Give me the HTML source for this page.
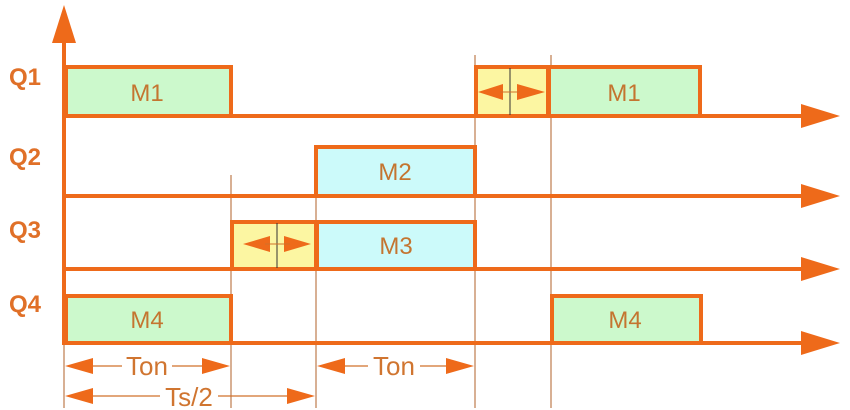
<!DOCTYPE html>
<html><head><meta charset="utf-8"><style>html,body{margin:0;padding:0;background:#fff}svg{display:block}</style></head>
<body>
<svg width="850" height="410" viewBox="0 0 850 410" xmlns="http://www.w3.org/2000/svg" font-family="Liberation Sans, sans-serif">
<g stroke="#b0622a" stroke-width="1" fill="none">
<line x1="64" y1="345" x2="64" y2="408"/>
<line x1="231" y1="175" x2="231" y2="408"/>
<line x1="316" y1="175" x2="316" y2="408"/>
<line x1="475" y1="55" x2="475" y2="408"/>
<line x1="551" y1="55" x2="551" y2="408"/>
</g>
<g stroke="#ee6a1a" stroke-width="4">
<rect x="66" y="67" width="165" height="49" fill="#ccf9cc"/>
<rect x="476" y="67" width="72" height="49" fill="#fcf6a2"/>
<rect x="549" y="67" width="151" height="49" fill="#ccf9cc"/>
<rect x="316" y="147" width="159" height="49" fill="#ccfafa"/>
<rect x="232" y="222" width="84" height="47" fill="#fcf6a2"/>
<rect x="317" y="222" width="158" height="47" fill="#ccfafa"/>
<rect x="66" y="296" width="165" height="47" fill="#ccf9cc"/>
<rect x="552" y="296" width="149" height="47" fill="#ccf9cc"/>
</g>
<g stroke="#ee6a1a" stroke-width="4">
<line x1="64" y1="40" x2="64" y2="345"/>
<line x1="64" y1="116" x2="805" y2="116"/>
<line x1="64" y1="196" x2="805" y2="196"/>
<line x1="64" y1="269" x2="805" y2="269"/>
<line x1="64" y1="343" x2="805" y2="343"/>
</g>
<g fill="#ee6a1a">
<polygon points="64,5 52,43 76,43"/>
<polygon points="840,116 801,104 801,128"/>
<polygon points="840,196 801,184 801,208"/>
<polygon points="840,269 801,257 801,281"/>
<polygon points="840,343 801,331 801,355"/>
</g>
<g stroke="#333" stroke-width="1"><line x1="510" y1="68" x2="510" y2="115"/><line x1="277" y1="223" x2="277" y2="268"/></g>
<g fill="#ee6a1a">
<polygon points="478,92 503,84 503,100"/><polygon points="545,92 517,84 517,100"/>
<polygon points="243,244 270,236 270,252"/><polygon points="311,244 284,236 284,252"/>
</g>
<g stroke="#d0702a" stroke-width="1"><line x1="500" y1="92" x2="520" y2="92"/><line x1="265" y1="244" x2="290" y2="244"/></g>
<g stroke="#d0702a" stroke-width="1.2">
<line x1="90" y1="366" x2="122" y2="366"/><line x1="172" y1="366" x2="205" y2="366"/>
<line x1="342" y1="366" x2="368" y2="366"/><line x1="420" y1="366" x2="448" y2="366"/>
<line x1="90" y1="396" x2="160" y2="396"/><line x1="218" y1="396" x2="290" y2="396"/>
</g>
<g fill="#ee6a1a">
<polygon points="65,366 93,358 93,374"/><polygon points="230,366 202,358 202,374"/>
<polygon points="317,366 345,358 345,374"/><polygon points="474,366 446,358 446,374"/>
<polygon points="65,396 93,388 93,404"/><polygon points="315,396 287,388 287,404"/>
</g>
<g fill="#d07530" font-size="26" text-anchor="middle">
<text x="147" y="375">Ton</text>
<text x="394" y="375">Ton</text>
<text x="189" y="406">Ts/2</text>
</g>
<g fill="#c47530" font-size="24" text-anchor="middle">
<text x="147" y="101">M1</text>
<text x="624" y="101">M1</text>
<text x="395" y="180">M2</text>
<text x="396" y="254">M3</text>
<text x="147" y="328">M4</text>
<text x="625" y="328">M4</text>
</g>
<g fill="#e07028" font-size="24" font-weight="bold">
<text x="9" y="85">Q1</text>
<text x="9" y="165">Q2</text>
<text x="9" y="238">Q3</text>
<text x="9" y="312">Q4</text>
</g>
</svg>
</body></html>
